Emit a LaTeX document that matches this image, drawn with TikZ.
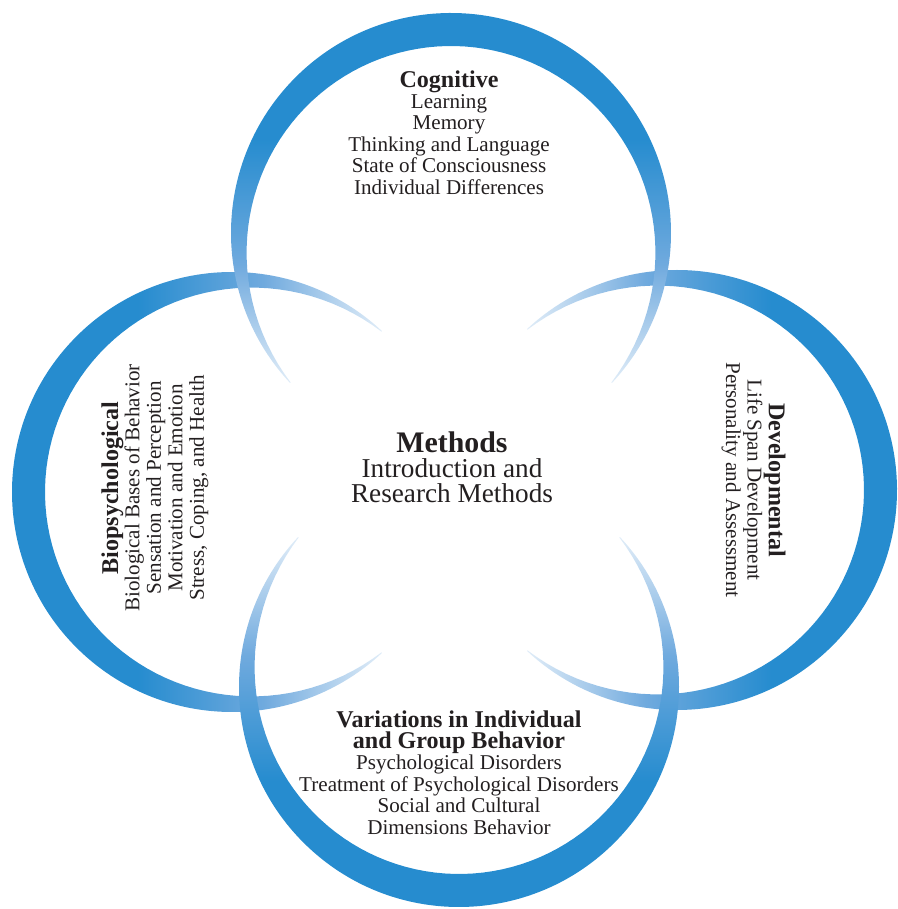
\documentclass[tikz,border=0pt]{standalone}
\usepackage{fontspec}
\setmainfont{Liberation Serif}
\definecolor{ringblue}{RGB}{38,140,207}
\definecolor{ringmid}{RGB}{112,170,222}
\definecolor{ringpale}{RGB}{225,237,248}
\definecolor{inkdark}{RGB}{35,31,32}
% fade from the outer rim of a ring towards its open tips
\pgfdeclareverticalshading{ringfade}{100bp}{color(0bp)=(ringpale); color(25bp)=(ringpale); color(40bp)=(ringmid); color(56bp)=(ringblue); color(100bp)=(ringblue)}
\tikzset{
  ring/.style={shading=ringfade, draw=none},
  area/.style={align=center, inner sep=0pt, text=inkdark, font=\fontsize{12}{12.2}\selectfont},
  hub/.style={align=center, inner sep=0pt, text=inkdark, font=\fontsize{15.5}{14.4}\selectfont}
}
% #1,#2 centre, #3 direction of the thick rim, #4 shading angle
% the band is 33 wide at the rim and thins out to a point at both tips
\newcommand{\ringband}[4]{%
  \shade[ring, shading angle=#4, shift={(#1,#2)}]
    (#3-133:220) arc[start angle=#3-133, end angle=#3+133, radius=220]
    -- plot[domain=#3+133:#3-133, samples=90] (\x:{220-33*cos(90*(\x-(#3))/135)})
    -- cycle;}
\newcommand{\areatitle}[1]{\textbf{\fontsize{13.7}{14}\selectfont #1}}

\begin{document}
\begin{tikzpicture}[x=0.02cm, y=0.02cm]
  \useasboundingbox (0,0) rectangle (897,909);

  % Rings
  \ringband{677}{419}{0}{270}
  \ringband{232}{417}{180}{90}
  \ringband{459}{222}{270}{180}
  \ringband{451}{676}{90}{0}

  % Labels
  \node[area, anchor=north] (cog) at (449,839)
    {\areatitle{Cognitive}\\Learning\\Memory\\Thinking and Language\\State of Consciousness\\Individual Differences};
  \node[hub, anchor=north] (methods) at (452,478)
    {\textbf{\fontsize{17}{16}\selectfont Methods}\\Introduction and\\Research Methods};
  \node[area, anchor=north] (variations) at (459,199)
    {\areatitle{Variations in Individual}\\\areatitle{and Group Behavior}\\Psychological Disorders\\Treatment of Psychological Disorders\\Social and Cultural\\Dimensions Behavior};
  \node[area, anchor=north, rotate=90] (bio) at (101,421)
    {\areatitle{Biopsychological}\\Biological Bases of Behavior\\Sensation and Perception\\Motivation and Emotion\\Stress, Coping, and Health};
  \node[area, anchor=north, rotate=-90] (dev) at (786,429)
    {\areatitle{Developmental}\\Life Span Development\\Personality and Assessment};

\end{tikzpicture}
\end{document}
